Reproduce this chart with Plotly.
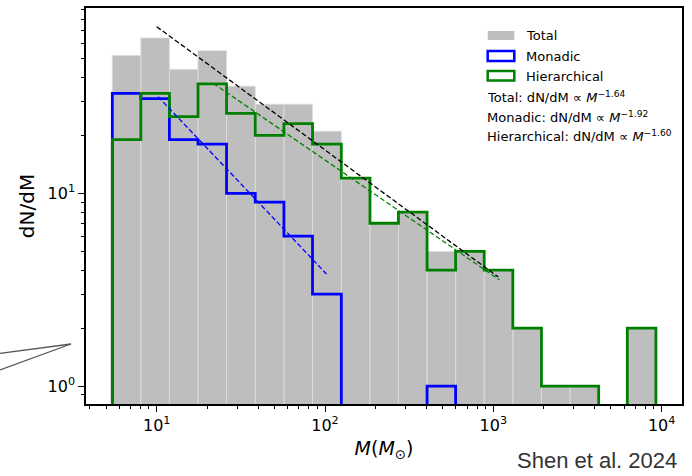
import plotly.graph_objects as go

# ---------------- data ----------------
bin_edges = [5.45, 8.05, 11.9, 17.6, 26.0, 38.5, 57.0, 84.3, 125, 185, 273,
             404, 597, 883, 1306, 1932, 2858, 4227, 6252, 9247]
total_counts = [52, 64, 44, 55, 36, 29, 29, 21, 12, 7, 8, 5, 5, 4, 2, 1, 1, 0, 2]
monadic_counts = [33, 31, 19, 18, 10, 9, 6, 3, 0, 0, 0, 1, 0, 0, 0, 0, 0, 0, 0]
hier_counts = [19, 33, 25, 37, 26, 20, 23, 18, 12, 7, 8, 4, 5, 4, 2, 1, 1, 0, 2]

fit_names = ["Total", "Monadic", "Hierarchical"]
fit_index = [1.64, 1.92, 1.60]          # dN/dM ∝ M^-index
fit_norm = [320, 269, 236]              # counts-per-log-bin normalisation
fit_lo = [10, 10.2, 21.7]
fit_hi = [1070, 102, 1086]
fit_colors = ["black", "#0000ff", "#008000"]

x_ticks = [10, 100, 1000, 10000]
x_ticktext = ["10<sup>1</sup>", "10<sup>2</sup>", "10<sup>3</sup>", "10<sup>4</sup>"]
y_ticks = [1, 10]
y_ticktext = ["10<sup>0</sup>", "10<sup>1</sup>"]

BASE = 1e-3  # stands in for zero on the log axis (clipped away)

def bars_path(edges, counts):
    xs, ys = [], []
    for i, c in enumerate(counts):
        if c <= 0:
            continue
        x0, x1 = edges[i], edges[i + 1]
        xs += [x0, x0, x1, x1, x0, None]
        ys += [BASE, c, c, BASE, BASE, None]
    return xs, ys

def step_path(edges, counts):
    xs, ys = [edges[0]], [BASE]
    for i, c in enumerate(counts):
        v = c if c > 0 else BASE
        xs += [edges[i], edges[i + 1]]
        ys += [v, v]
    xs.append(edges[-1])
    ys.append(BASE)
    return xs, ys

fig = go.Figure()

bx, by = bars_path(bin_edges, total_counts)
fig.add_trace(go.Scatter(x=bx, y=by, mode="lines", fill="toself",
                         fillcolor="#bebebe", line=dict(color="#dcdcdc", width=0.8),
                         name="Total", showlegend=False, hoverinfo="skip"))

for counts, col, nm in [(monadic_counts, "#0000ff", "Monadic"),
                        (hier_counts, "#008000", "Hierarchical")]:
    sx, sy = step_path(bin_edges, counts)
    fig.add_trace(go.Scatter(x=sx, y=sy, mode="lines",
                             line=dict(color=col, width=2.8, shape="linear"),
                             name=nm, showlegend=False))

for nm, k, a, lo, hi, col in zip(fit_names, fit_index, fit_norm, fit_lo, fit_hi, fit_colors):
    xs = [lo, hi]
    ys = [a * x ** (1 - k) for x in xs]
    fig.add_trace(go.Scatter(x=xs, y=ys, mode="lines",
                             line=dict(color=col, width=1.3, dash="5px,2.5px"),
                             name=nm + " fit", showlegend=False))

# ---------------- layout ----------------
L, R, T, B = 86, 10, 8, 72
W, H = 692, 476
PW, PH = W - L - R, H - T - B

def xp(px):
    return (px - L) / PW

def yp(py):
    return (H - B - py) / PH

FONT = "DejaVu Sans"

minor_x = [m * 10 ** d for d in range(0, 4) for m in range(2, 10)]
minor_y = [m * 10 ** d for d in range(-1, 2) for m in range(2, 10)]

fig.update_layout(
    width=W, height=H,
    margin=dict(l=L, r=R, t=T, b=B, pad=0, autoexpand=False),
    paper_bgcolor="white", plot_bgcolor="white",
    font=dict(family=FONT, color="black", size=16),
    showlegend=False,
    xaxis=dict(type="log", range=[0.58, 4.121], showgrid=False, zeroline=False,
               automargin=False,
               showline=True, linecolor="black", linewidth=1.5, mirror=True,
               ticks="outside", ticklen=6, tickwidth=1.2, tickcolor="black",
               tickmode="array", tickvals=x_ticks, ticktext=x_ticktext,
               tickfont=dict(family=FONT, size=16),
               minor=dict(ticks="outside", ticklen=3.5, tickwidth=0.9, tickcolor="black",
                          tickmode="array", tickvals=minor_x, showgrid=False),
               title=dict(text="<i>M</i>(<i>M</i><sub>⊙</sub>)",
                          font=dict(family=FONT, size=19), standoff=8)),
    yaxis=dict(type="log", range=[-0.093, 1.962], showgrid=False, zeroline=False,
               automargin=False,
               showline=True, linecolor="black", linewidth=1.5, mirror=True,
               ticks="outside", ticklen=6, tickwidth=1.2, tickcolor="black",
               tickmode="array", tickvals=y_ticks, ticktext=y_ticktext,
               tickfont=dict(family=FONT, size=16),
               minor=dict(ticks="outside", ticklen=3.5, tickwidth=0.9, tickcolor="black",
                          tickmode="array", tickvals=minor_y, showgrid=False),
               title=dict(text="dN/dM", font=dict(family=FONT, size=20), standoff=8)),
)

# ---------------- manual legend ----------------
shapes = []
annotations = []
leg_x0, leg_x1 = xp(487.7), xp(514.3)
legend_rows = [
    ("Total", 31, 40, dict(fillcolor="#bebebe", line=dict(width=0)), 35.5),
    ("Monadic", 51, 61, dict(fillcolor="rgba(0,0,0,0)", line=dict(color="#0000ff", width=2.5)), 56),
    ("Hierarchical", 71, 80.5, dict(fillcolor="rgba(0,0,0,0)", line=dict(color="#008000", width=2.5)), 76),
]
for label, top, bot, style, cy in legend_rows:
    shapes.append(dict(type="rect", xref="paper", yref="paper",
                       x0=leg_x0, x1=leg_x1, y0=yp(bot), y1=yp(top), **style))
    annotations.append(dict(xref="paper", yref="paper", x=xp(524), y=yp(cy),
                            xanchor="left", yanchor="middle", showarrow=False,
                            text=label, font=dict(family=FONT, size=13, color="black")))

fit_rows_y = [96.7, 116.7, 136]
for nm, k, cy in zip(fit_names, fit_index, fit_rows_y):
    annotations.append(dict(xref="paper", yref="paper", x=xp(484.5), y=yp(cy),
                            xanchor="left", yanchor="middle", showarrow=False,
                            text=f"{nm}: dN/dM ∝ <i>M</i><sup>−{k:.2f}</sup>",
                            font=dict(family=FONT, size=13, color="black")))

annotations.append(dict(xref="paper", yref="paper", x=xp(679), y=yp(460),
                        xanchor="right", yanchor="middle", showarrow=False,
                        text="Shen et al. 2024",
                        font=dict(family="Liberation Sans", size=22, color="#333333")))

# callout pointer lines at the left edge
for (xa, ya) in [(0, 353.3), (0, 370)]:
    shapes.append(dict(type="line", xref="paper", yref="paper",
                       x0=xp(xa), y0=yp(ya), x1=xp(71), y1=yp(344),
                       line=dict(color="#555555", width=1.3)))

fig.update_layout(shapes=shapes, annotations=annotations)

fig.write_html("out.html", config={"displayModeBar": False},
               post_script="document.body.style.margin='0';document.body.style.overflow='hidden';")
